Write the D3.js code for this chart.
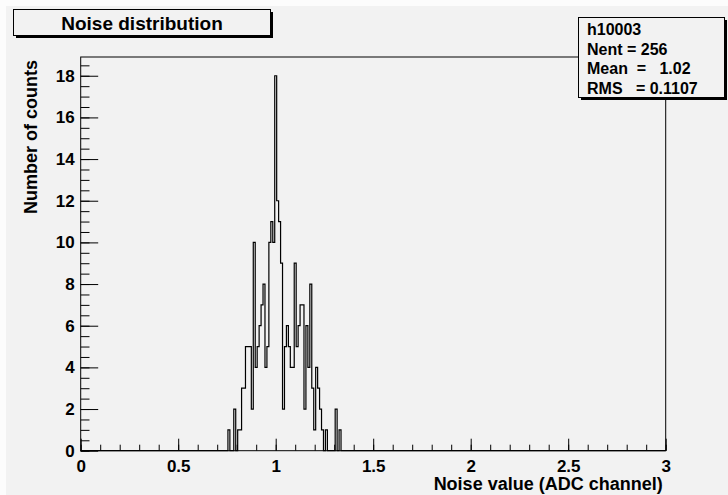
<!DOCTYPE html>
<html>
<head>
<meta charset="utf-8">
<script src="https://cdn.jsdelivr.net/npm/d3@7"></script>
<style>
  body { margin: 0; background: #f2f2f2; }
  svg text { font-family: "Liberation Sans", Arial, Helvetica, sans-serif; font-weight: bold; fill: #000; white-space: pre; }
</style>
</head>
<body>
<div id="vis"></div>
<script>
const WIDTH = 728;
const HEIGHT = 495;
const FRAME = {left: 80.7, right: 665.7, top: 57, bottom: 450.7};

// histogram: 0.01 wide bins, centre of each bin and its content
const binWidth = 0.01;
const binCenters = [0.76, 0.77, 0.78, 0.79, 0.80, 0.81, 0.82, 0.83, 0.84, 0.85,
                    0.86, 0.87, 0.88, 0.89, 0.90, 0.91, 0.92, 0.93, 0.94, 0.95,
                    0.96, 0.97, 0.98, 0.99, 1.00, 1.01, 1.02, 1.03, 1.04, 1.05,
                    1.06, 1.07, 1.08, 1.09, 1.10, 1.11, 1.12, 1.13, 1.14, 1.15,
                    1.16, 1.17, 1.18, 1.19, 1.20, 1.21, 1.22, 1.23, 1.24, 1.25,
                    1.26, 1.27, 1.28, 1.29, 1.30, 1.31, 1.32, 1.33];
const counts = [1, 0, 0, 2, 0, 1, 1, 3, 3, 5,
                5, 5, 2, 10, 4, 5, 6, 7, 8, 4,
                5, 10, 11, 10, 18, 12, 11, 9, 2, 5,
                6, 5, 4, 4, 9, 5, 6, 7, 7, 2,
                6, 4, 8, 3, 1, 4, 3, 2, 1, 0,
                1, 0, 0, 0, 0, 2, 0, 1];

const xDomain = [0, 3];
const yDomain = [0, 18.9];
const xTicks = [0, 0.5, 1, 1.5, 2, 2.5, 3];
const xTickLabels = ["0", "0.5", "1", "1.5", "2", "2.5", "3"];
const yTicks = [0, 2, 4, 6, 8, 10, 12, 14, 16, 18];
const yTickLabels = ["0", "2", "4", "6", "8", "10", "12", "14", "16", "18"];

const statsName = "h10003";
const statsLines = ["Nent = 256", "Mean  =   1.02", "RMS   = 0.1107"];

const svg = d3.select("#vis").append("svg")
    .attr("width", WIDTH)
    .attr("height", HEIGHT);

// canvas + light border top/left
svg.append("rect").attr("width", WIDTH).attr("height", HEIGHT).attr("fill", "#f2f2f2");
svg.append("rect").attr("width", WIDTH).attr("height", 6).attr("fill", "#fcfcfc");
svg.append("rect").attr("width", 6).attr("height", HEIGHT).attr("fill", "#fcfcfc");

const X_SCALE = d3.scaleLinear().domain(xDomain).range([FRAME.left, FRAME.right]);
const Y_SCALE = d3.scaleLinear().domain(yDomain).range([FRAME.bottom, FRAME.top]);

// frame
svg.append("rect")
    .attr("x", FRAME.left).attr("y", FRAME.top)
    .attr("width", FRAME.right - FRAME.left)
    .attr("height", FRAME.bottom - FRAME.top)
    .attr("fill", "#f2f2f2")
    .attr("stroke", "#000")
    .attr("stroke-width", 1);

// x axis, ticks pointing into the frame
const xMinor = d3.range(0, 3.0001, 0.1).map(d => +d.toFixed(2));
svg.append("g")
    .attr("transform", "translate(0," + FRAME.bottom + ")")
    .call(d3.axisBottom(X_SCALE).tickValues(xMinor).tickSizeInner(-6).tickSizeOuter(0).tickFormat(""))
    .call(g => g.select(".domain").remove());
svg.append("g")
    .attr("transform", "translate(0," + FRAME.bottom + ")")
    .call(d3.axisBottom(X_SCALE).tickValues(xTicks).tickSizeInner(-12).tickSizeOuter(0)
            .tickPadding(9).tickFormat((d, i) => xTickLabels[i]))
    .call(g => g.select(".domain").remove())
    .selectAll("text").attr("font-size", "17px");

// y axis
const yMinor = d3.range(0, 18.9, 0.5);
svg.append("g")
    .attr("transform", "translate(" + FRAME.left + ",0)")
    .call(d3.axisLeft(Y_SCALE).tickValues(yMinor).tickSizeInner(-8.8).tickSizeOuter(0).tickFormat(""))
    .call(g => g.select(".domain").remove());
svg.append("g")
    .attr("transform", "translate(" + FRAME.left + ",0)")
    .call(d3.axisLeft(Y_SCALE).tickValues(yTicks).tickSizeInner(-17.5).tickSizeOuter(0)
            .tickPadding(6).tickFormat((d, i) => yTickLabels[i]))
    .call(g => g.select(".domain").remove())
    .selectAll("text").attr("font-size", "17px");

svg.selectAll(".tick line").attr("stroke", "#000").attr("stroke-width", 1);
svg.selectAll("g text").attr("fill", "#000").attr("font-family", null);

// histogram outline (step line)
const verts = [[xDomain[0], 0]];
let prev = 0;
binCenters.forEach((c, i) => {
  const lo = c - binWidth / 2;
  verts.push([lo, prev]);
  verts.push([lo, counts[i]]);
  prev = counts[i];
});
const lastHi = binCenters[binCenters.length - 1] + binWidth / 2;
verts.push([lastHi, prev]);
verts.push([lastHi, 0]);
verts.push([xDomain[1], 0]);

svg.append("path")
    .datum(verts)
    .attr("fill", "none")
    .attr("stroke", "#000")
    .attr("stroke-width", 1.2)
    .attr("d", d3.line().x(d => X_SCALE(d[0])).y(d => Y_SCALE(d[1])));

// axis titles
svg.append("text")
    .attr("x", FRAME.right - 3).attr("y", 490)
    .attr("text-anchor", "end")
    .attr("font-size", "18px")
    .text("Noise value (ADC channel)");
svg.append("text")
    .attr("transform", "translate(37," + (FRAME.top + 3) + ") rotate(-90)")
    .attr("text-anchor", "end")
    .attr("font-size", "18px")
    .text("Number of counts");

// title box with shadow
svg.append("rect").attr("x", 16).attr("y", 12).attr("width", 257).attr("height", 26).attr("fill", "#000");
svg.append("rect").attr("x", 13.5).attr("y", 9.5).attr("width", 257).attr("height", 26)
    .attr("fill", "#f2f2f2").attr("stroke", "#000").attr("stroke-width", 1);
svg.append("text")
    .attr("x", 142).attr("y", 29.5)
    .attr("text-anchor", "middle")
    .attr("font-size", "19px")
    .text("Noise distribution");

// stats box
svg.append("rect").attr("x", 581).attr("y", 20).attr("width", 146).attr("height", 80).attr("fill", "#000");
svg.append("rect").attr("x", 578.5).attr("y", 17.5).attr("width", 146).attr("height", 80)
    .attr("fill", "#f2f2f2").attr("stroke", "#000").attr("stroke-width", 1);
svg.append("text").attr("x", 587).attr("y", 35).attr("font-size", "16px").text(statsName);
statsLines.forEach((s, i) => {
  svg.append("text")
      .attr("x", 587).attr("y", 55 + i * 19.3)
      .attr("font-size", "16px")
      .text(s);
});
</script>
</body>
</html>
